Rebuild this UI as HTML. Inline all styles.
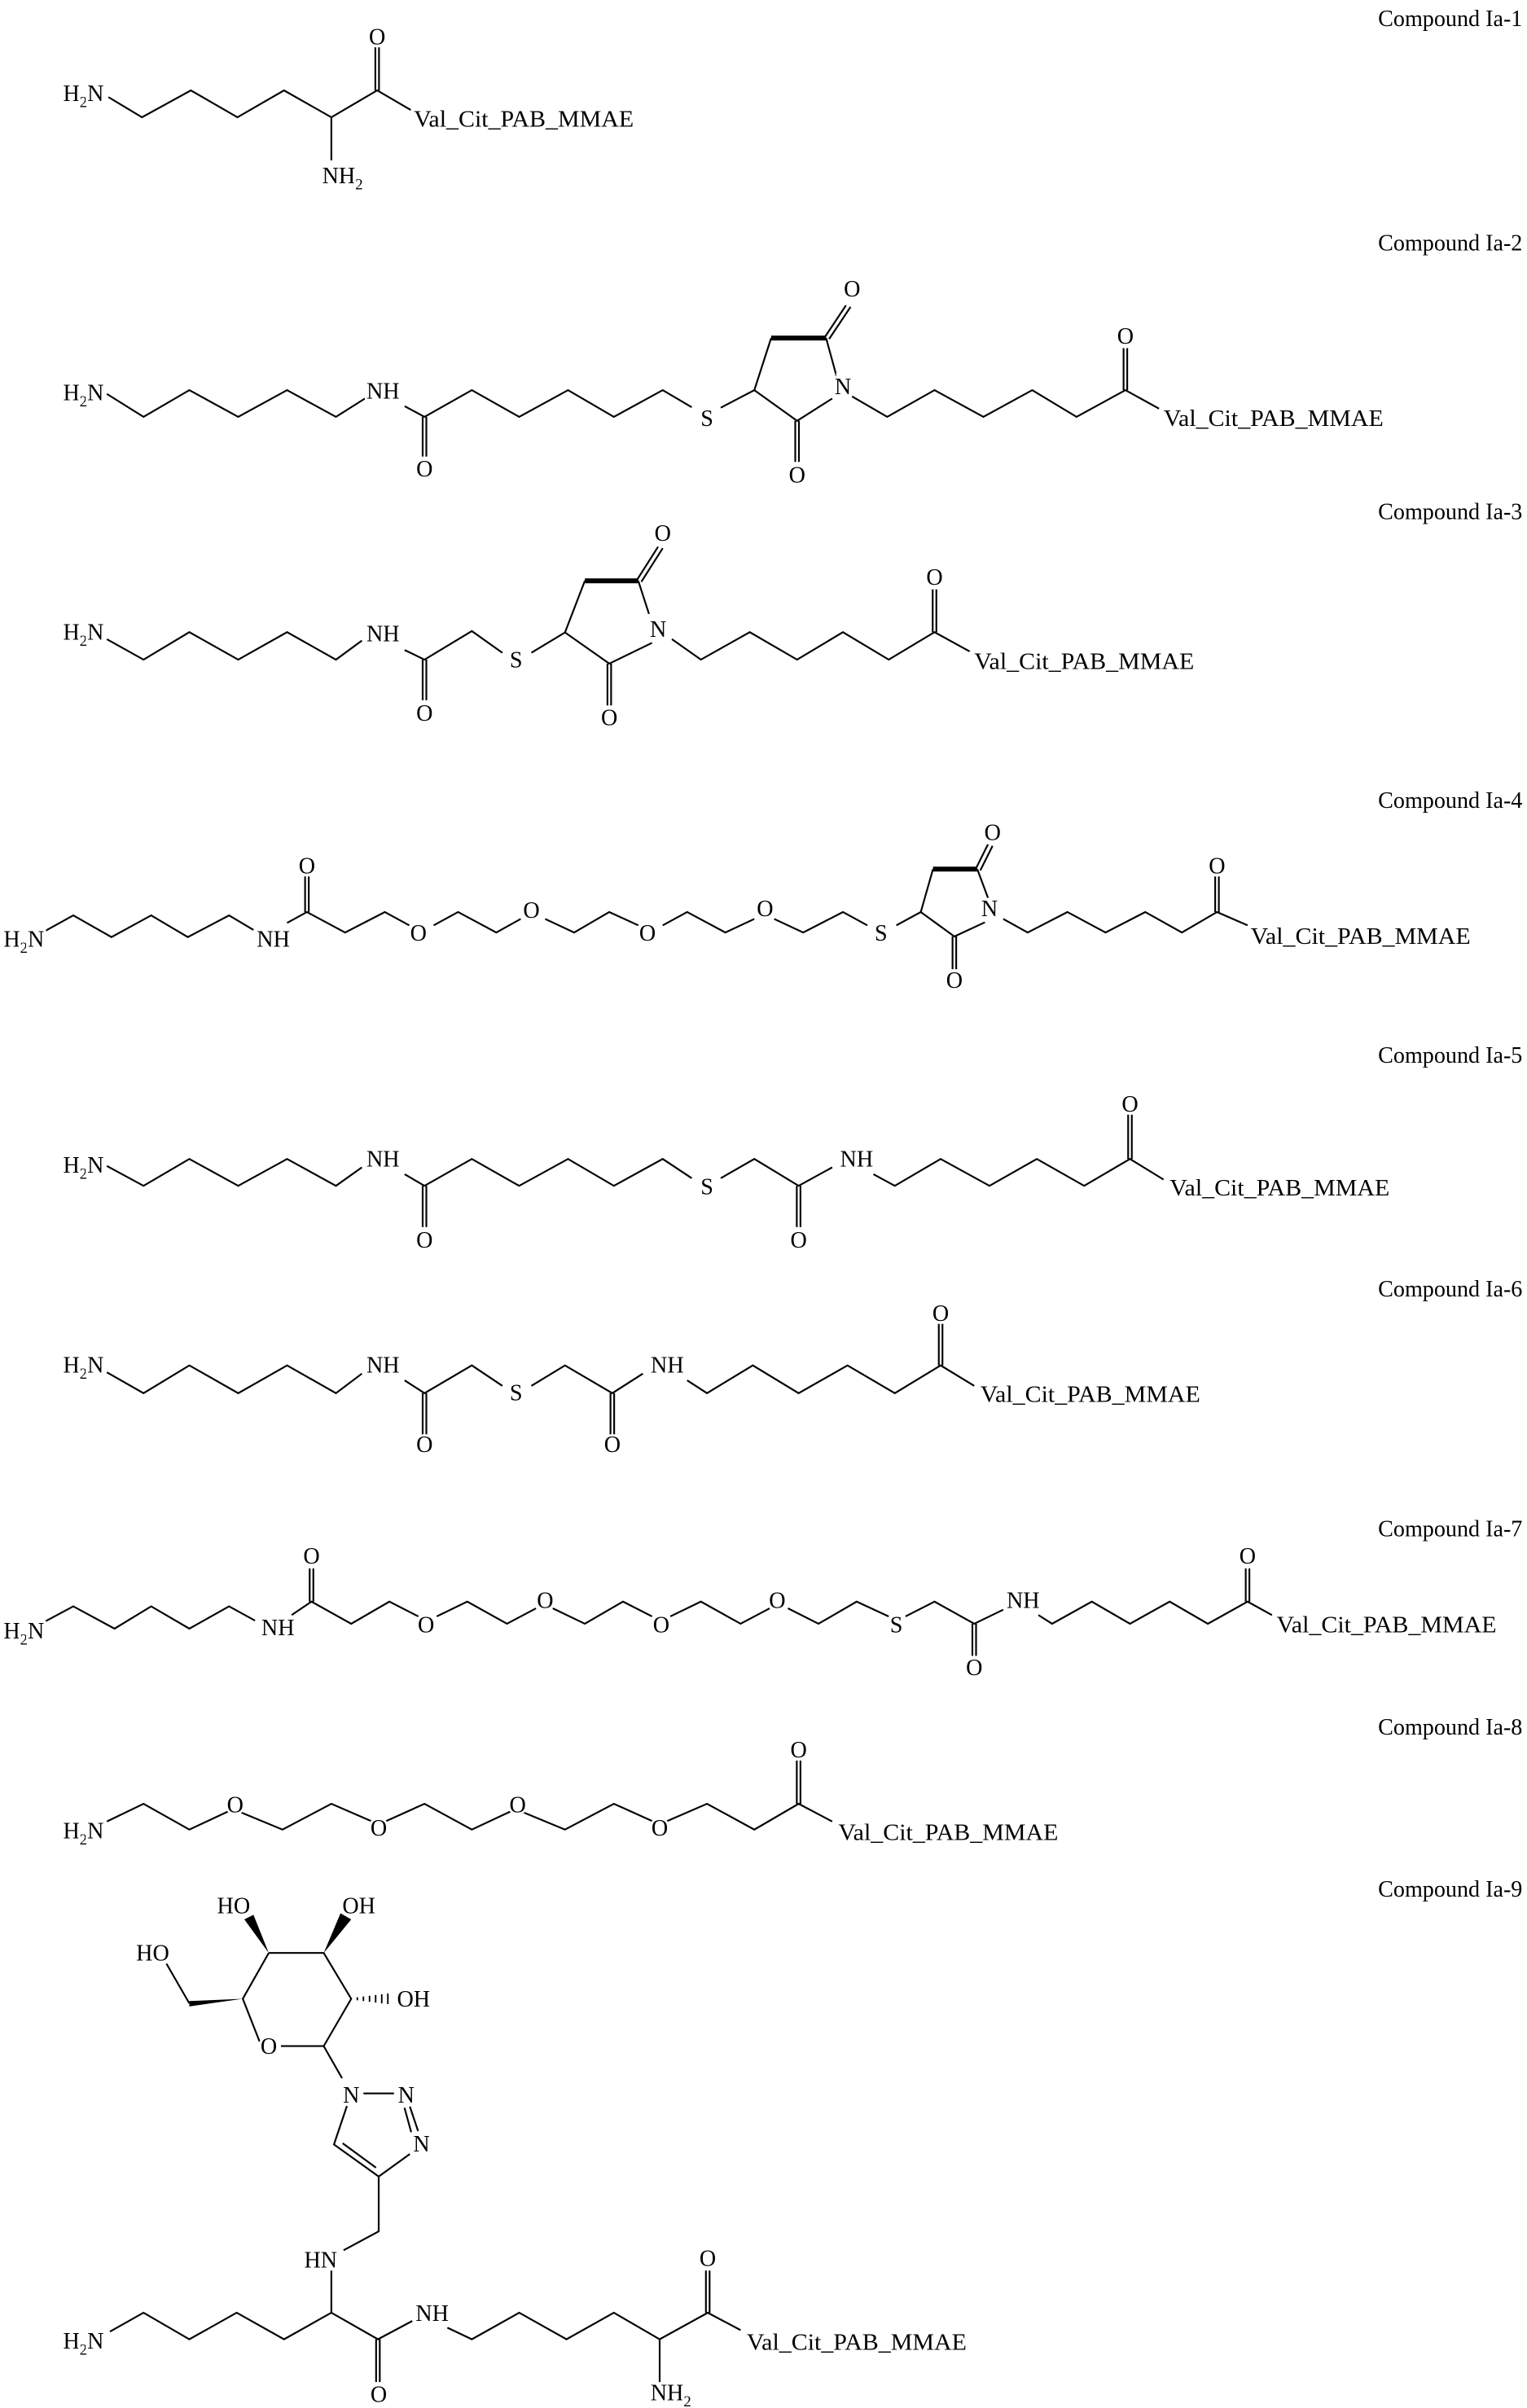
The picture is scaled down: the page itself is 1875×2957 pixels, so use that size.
<!DOCTYPE html>
<html><head><meta charset="utf-8"><style>
html,body{margin:0;padding:0;background:#fff}
svg{display:block}
.b{stroke:#000;stroke-width:1.15;fill:none;stroke-linejoin:miter}
.bb{stroke:#000;stroke-width:3.2;fill:none}
text{font-family:"Liberation Serif",serif;font-size:15px;fill:#000;paint-order:stroke;stroke:#fff;stroke-width:3px}
.m{text-anchor:middle}.e{text-anchor:end}
</style></head><body>
<svg width="1875" height="2957" viewBox="0 0 1000 1577" preserveAspectRatio="none" xmlns="http://www.w3.org/2000/svg">
<!-- Ia-1 -->
<g class="b">
<polyline points="71,63.6 93,76.8 125,59.2 155.5,76.8 186,59.2 217,76.8 247,59.2 269,72"/>
<line x1="245.8" y1="59.2" x2="245.8" y2="31"/><line x1="248.2" y1="59.2" x2="248.2" y2="31"/>
<line x1="217" y1="76.8" x2="217" y2="105"/>
</g>
<text class="e" x="68" y="66">H<tspan font-size="10" dy="4">2</tspan><tspan dy="-4">N</tspan></text>
<text class="m" x="247" y="29">O</text>
<text x="211" y="120">NH<tspan font-size="10" dy="4">2</tspan></text>
<text x="271" y="83" textLength="144" lengthAdjust="spacingAndGlyphs">Val_Cit_PAB_MMAE</text>
<text class="e" x="997" y="17">Compound Ia-1</text>

<!-- Ia-2 -->
<g class="b">
<polyline points="70,258 94,273 124,255.5 156,273 188,255.5 220,273 239,261"/>
<polyline points="265,266 278,273 309,255.5 340,273 372,255.5 402,273 434,255.5 453,266.7"/>
<line x1="276.8" y1="273" x2="276.8" y2="299"/><line x1="279.2" y1="273" x2="279.2" y2="299"/>
<polyline points="472,267 494,255.5 505,221.4"/>
<line x1="541" y1="221.4" x2="548" y2="247"/>
<polyline points="545,261 522,275.6 494,255.5"/>
<line x1="520.8" y1="275.6" x2="520.8" y2="302.5"/><line x1="523.2" y1="275.6" x2="523.2" y2="302.5"/>
<line x1="540" y1="221" x2="554" y2="200"/><line x1="543" y1="222" x2="557" y2="201"/>
<polyline points="558,259.6 581,273 612,255.5 644,273 676,255.5 705,273 737,255.5 759,267.6"/>
<line x1="735.8" y1="255.5" x2="735.8" y2="228"/><line x1="738.2" y1="255.5" x2="738.2" y2="228"/>
</g>
<line class="bb" x1="505" y1="221.4" x2="541" y2="221.4"/>
<text class="e" x="68" y="262">H<tspan font-size="10" dy="4">2</tspan><tspan dy="-4">N</tspan></text>
<text x="240" y="261">NH</text>
<text class="m" x="278" y="312">O</text>
<text class="m" x="463" y="279">S</text>
<text class="m" x="552" y="258">N</text>
<text class="m" x="522" y="316">O</text>
<text class="m" x="558" y="194">O</text>
<text class="m" x="737" y="225">O</text>
<text x="762" y="279" textLength="144" lengthAdjust="spacingAndGlyphs">Val_Cit_PAB_MMAE</text>
<text class="e" x="997" y="164">Compound Ia-2</text>

<!-- Ia-3 -->
<g class="b">
<polyline points="70,418.6 94,432 124,414 156,432 188,414 220,432 237,419.5"/>
<polyline points="265,425.7 278,432 309,413.3 329,427.5"/>
<line x1="276.8" y1="432" x2="276.8" y2="458.6"/><line x1="279.2" y1="432" x2="279.2" y2="458.6"/>
<polyline points="348,427.5 370,414.2 383,380.4"/>
<line x1="418" y1="380.4" x2="425" y2="402"/>
<polyline points="427,421 399,434.6 370,414.2"/>
<line x1="397.8" y1="434.6" x2="397.8" y2="462"/><line x1="400.2" y1="434.6" x2="400.2" y2="462"/>
<line x1="417" y1="380" x2="431" y2="358"/><line x1="420" y1="381" x2="434" y2="359"/>
<polyline points="440,418.6 459,432 491,414 522,432 552,414 582,432 612,414 635,426.6"/>
<line x1="610.8" y1="414" x2="610.8" y2="386"/><line x1="613.2" y1="414" x2="613.2" y2="386"/>
</g>
<line class="bb" x1="383" y1="380.4" x2="418" y2="380.4"/>
<text class="e" x="68" y="419">H<tspan font-size="10" dy="4">2</tspan><tspan dy="-4">N</tspan></text>
<text x="240" y="420">NH</text>
<text class="m" x="278" y="472">O</text>
<text class="m" x="338" y="437">S</text>
<text class="m" x="431" y="417">N</text>
<text class="m" x="399" y="475">O</text>
<text class="m" x="434" y="354">O</text>
<text class="m" x="612" y="383">O</text>
<text x="638" y="438" textLength="144" lengthAdjust="spacingAndGlyphs">Val_Cit_PAB_MMAE</text>
<text class="e" x="997" y="340">Compound Ia-3</text>

<!-- Ia-4 -->
<g class="b">
<polyline points="29,610 48,599.5 73,613.7 99,599.5 123,613.7 150,599.5 166,609"/>
<polyline points="188,604.4 201,597.3 226,610.7 252,597.3 268,606"/>
<line x1="199.8" y1="597.3" x2="199.8" y2="574"/><line x1="202.2" y1="597.3" x2="202.2" y2="574"/>
<polyline points="284,606 300,597.3 325,610.7 341,601.8"/>
<polyline points="357,601.8 376,610.7 399,597.3 418,606"/>
<polyline points="434,606 450,597.3 475,610.7 494,601.8"/>
<polyline points="507,601.8 526,610.7 552,597.3 568,606"/>
<polyline points="587,606 603,597.3 611,569.2"/>
<line x1="640" y1="569.2" x2="647" y2="588"/>
<polyline points="645,604 625,613.3 603,597.3"/>
<line x1="623.8" y1="613.3" x2="623.8" y2="634.7"/><line x1="626.2" y1="613.3" x2="626.2" y2="634.7"/>
<line x1="639" y1="569" x2="647" y2="553"/><line x1="642" y1="570" x2="650" y2="554"/>
<polyline points="657,601.8 673,610.7 699,597.3 724,610.7 750,597.3 774,610.7 797,597.3 817,606"/>
<line x1="795.8" y1="597.3" x2="795.8" y2="574"/><line x1="798.2" y1="597.3" x2="798.2" y2="574"/>
</g>
<line class="bb" x1="611" y1="569.2" x2="640" y2="569.2"/>
<text class="e" x="29" y="620">H<tspan font-size="10" dy="4">2</tspan><tspan dy="-4">N</tspan></text>
<text class="m" x="179" y="620">NH</text>
<text class="m" x="201" y="572">O</text>
<text class="m" x="274" y="616">O</text>
<text class="m" x="348" y="601">O</text>
<text class="m" x="424" y="616">O</text>
<text class="m" x="501" y="600">O</text>
<text class="m" x="577" y="616">S</text>
<text class="m" x="648" y="600">N</text>
<text class="m" x="625" y="647">O</text>
<text class="m" x="650" y="550">O</text>
<text class="m" x="797" y="572">O</text>
<text x="819" y="618" textLength="144" lengthAdjust="spacingAndGlyphs">Val_Cit_PAB_MMAE</text>
<text class="e" x="997" y="529">Compound Ia-4</text>

<!-- Ia-5 -->
<g class="b">
<polyline points="70,763.6 94,776.6 124,759 156,776.6 188,759 220,776.6 237,764.5"/>
<polyline points="265,769 278,776.6 309,759 340,776.6 372,759 402,776.6 434,759 453,771.6"/>
<line x1="276.8" y1="776.6" x2="276.8" y2="803.6"/><line x1="279.2" y1="776.6" x2="279.2" y2="803.6"/>
<polyline points="472,771.6 494,759 523,776.6 545,764.5"/>
<line x1="521.8" y1="776.6" x2="521.8" y2="803.6"/><line x1="524.2" y1="776.6" x2="524.2" y2="803.6"/>
<polyline points="572,769 586,776.6 616,759 648,776.6 679,759 710,776.6 740,759 762,772.5"/>
<line x1="738.8" y1="759" x2="738.8" y2="730"/><line x1="741.2" y1="759" x2="741.2" y2="730"/>
</g>
<text class="e" x="68" y="768">H<tspan font-size="10" dy="4">2</tspan><tspan dy="-4">N</tspan></text>
<text x="240" y="764">NH</text>
<text class="m" x="278" y="817">O</text>
<text class="m" x="463" y="782">S</text>
<text class="m" x="523" y="817">O</text>
<text class="m" x="561" y="764">NH</text>
<text class="m" x="740" y="728">O</text>
<text x="766" y="783" textLength="144" lengthAdjust="spacingAndGlyphs">Val_Cit_PAB_MMAE</text>
<text class="e" x="997" y="696">Compound Ia-5</text>

<!-- Ia-6 -->
<g class="b">
<polyline points="70,898.7 94,912.4 124,894.2 156,912.4 188,894.2 220,912.4 237,899.6"/>
<polyline points="265,904 278,912.4 309,894.2 329,907.6"/>
<line x1="276.8" y1="912.4" x2="276.8" y2="939.6"/><line x1="279.2" y1="912.4" x2="279.2" y2="939.6"/>
<polyline points="348,907.6 370,894.2 401,912.4 421,899.6"/>
<line x1="399.8" y1="912.4" x2="399.8" y2="939.6"/><line x1="402.2" y1="912.4" x2="402.2" y2="939.6"/>
<polyline points="450,904 463,912.4 493,894.2 523,912.4 555,894.2 586,912.4 616,894.2 638,907.6"/>
<line x1="614.8" y1="894.2" x2="614.8" y2="867"/><line x1="617.2" y1="894.2" x2="617.2" y2="867"/>
</g>
<text class="e" x="68" y="899">H<tspan font-size="10" dy="4">2</tspan><tspan dy="-4">N</tspan></text>
<text x="240" y="899">NH</text>
<text class="m" x="278" y="951">O</text>
<text class="m" x="338" y="917">S</text>
<text class="m" x="401" y="951">O</text>
<text class="m" x="437" y="899">NH</text>
<text class="m" x="616" y="865">O</text>
<text x="642" y="918" textLength="144" lengthAdjust="spacingAndGlyphs">Val_Cit_PAB_MMAE</text>
<text class="e" x="997" y="849">Compound Ia-6</text>

<!-- Ia-7 -->
<g class="b">
<polyline points="29,1062.2 48,1052 75,1066.6 99,1052 124,1066.6 150,1052 167,1061.3"/>
<polyline points="191,1057.7 204,1048.9 230,1063.4 255,1048.9 274,1058.6"/>
<line x1="202.8" y1="1048.9" x2="202.8" y2="1027.2"/><line x1="205.2" y1="1048.9" x2="205.2" y2="1027.2"/>
<polyline points="286,1058.6 306,1048.9 332,1063.4 351,1053.3"/>
<polyline points="362,1053.3 383,1063.4 408,1048.9 427,1058.6"/>
<polyline points="439,1058.6 459,1048.9 485,1063.4 504,1053.3"/>
<polyline points="516,1053.3 536,1063.4 561,1048.9 582,1058.6"/>
<polyline points="593,1058.6 612,1048.9 638,1063.4 657,1054.2"/>
<line x1="636.8" y1="1063.4" x2="636.8" y2="1084.4"/><line x1="639.2" y1="1063.4" x2="639.2" y2="1084.4"/>
<polyline points="680,1057.7 689,1063.4 715,1048.9 740,1063.4 766,1048.9 791,1063.4 817,1048.9 833,1057.7"/>
<line x1="815.8" y1="1048.9" x2="815.8" y2="1027.2"/><line x1="818.2" y1="1048.9" x2="818.2" y2="1027.2"/>
</g>
<text class="e" x="29" y="1073">H<tspan font-size="10" dy="4">2</tspan><tspan dy="-4">N</tspan></text>
<text class="m" x="182" y="1071">NH</text>
<text class="m" x="204" y="1024">O</text>
<text class="m" x="279" y="1069">O</text>
<text class="m" x="357" y="1053">O</text>
<text class="m" x="433" y="1069">O</text>
<text class="m" x="509" y="1053">O</text>
<text class="m" x="587" y="1069">S</text>
<text class="m" x="638" y="1097">O</text>
<text class="m" x="670" y="1053">NH</text>
<text class="m" x="817" y="1024">O</text>
<text x="836" y="1069" textLength="144" lengthAdjust="spacingAndGlyphs">Val_Cit_PAB_MMAE</text>
<text class="e" x="997" y="1006">Compound Ia-7</text>

<!-- Ia-8 -->
<g class="b">
<polyline points="70,1192.9 94,1181.3 124,1198.2 150,1186"/>
<polyline points="158,1187 185,1198.2 217,1181.3 244,1193"/>
<polyline points="252,1193 278,1181.3 309,1198.2 335,1186"/>
<polyline points="343,1187 370,1198.2 402,1181.3 428,1193"/>
<polyline points="436,1193 463,1181.3 494,1198.2 523,1181.3 545,1192.9"/>
<line x1="521.8" y1="1181.3" x2="521.8" y2="1153"/><line x1="524.2" y1="1181.3" x2="524.2" y2="1153"/>
</g>
<text class="e" x="68" y="1204">H<tspan font-size="10" dy="4">2</tspan><tspan dy="-4">N</tspan></text>
<text class="m" x="154" y="1187">O</text>
<text class="m" x="248" y="1202">O</text>
<text class="m" x="339" y="1187">O</text>
<text class="m" x="432" y="1202">O</text>
<text class="m" x="523" y="1151">O</text>
<text x="549" y="1205" textLength="144" lengthAdjust="spacingAndGlyphs">Val_Cit_PAB_MMAE</text>
<text class="e" x="997" y="1136">Compound Ia-8</text>

<!-- Ia-9 -->
<g class="b">
<polyline points="176,1279 212,1279 230,1309 212,1340 184,1340"/>
<polyline points="170,1337 159,1309 176,1279"/>
<line x1="124" y1="1312" x2="109" y2="1286"/>
<line x1="212" y1="1340" x2="224" y2="1361"/>
<line x1="238" y1="1371" x2="258" y2="1371"/>
<line x1="264.9" y1="1380.4" x2="269.3" y2="1396.4"/>
<line x1="268.4" y1="1379.6" x2="273.8" y2="1395.6"/>
<polyline points="268.4,1410.7 248,1425.4 218.7,1404.4 227.2,1379.2"/>
<line x1="224.4" y1="1403.6" x2="246.2" y2="1419.6"/>
<polyline points="248,1425.4 248,1461.3 225,1473.7"/>
<line x1="217" y1="1487" x2="217" y2="1514.6"/>
<polyline points="72,1527 94,1514.6 124,1532 155,1514.6 186,1532 217,1514.6 247.5,1532 270,1520"/>
<line x1="246.3" y1="1532" x2="246.3" y2="1560"/><line x1="248.7" y1="1532" x2="248.7" y2="1560"/>
<polyline points="293,1524.4 309,1532 340,1514.6 371,1532 402,1514.6 432,1532 463.5,1514.6 485,1526"/>
<line x1="432" y1="1532" x2="432" y2="1560"/>
<line x1="462.3" y1="1514.6" x2="462.3" y2="1487"/><line x1="464.7" y1="1514.6" x2="464.7" y2="1487"/>
</g>
<polygon points="176,1279 160,1257 166,1254" fill="#000"/>
<polygon points="212,1279 223,1253 230,1257" fill="#000"/>
<polygon points="159,1309 124,1310.5 124,1314" fill="#000"/>
<g stroke="#000" stroke-width="1">
<line x1="234" y1="1308" x2="234" y2="1310"/>
<line x1="238" y1="1307.5" x2="238" y2="1310.5"/>
<line x1="242" y1="1307" x2="242" y2="1311"/>
<line x1="246" y1="1306.5" x2="246" y2="1311.5"/>
<line x1="250" y1="1306" x2="250" y2="1312"/>
<line x1="254" y1="1305.5" x2="254" y2="1312.5"/>
</g>
<text class="m" x="153" y="1253">HO</text>
<text class="m" x="235" y="1253">OH</text>
<text class="m" x="100" y="1284">HO</text>
<text x="260" y="1314">OH</text>
<text class="m" x="176" y="1345">O</text>
<text class="m" x="230" y="1377">N</text>
<text class="m" x="266" y="1377">N</text>
<text class="m" x="276" y="1409">N</text>
<text class="m" x="210" y="1485">HN</text>
<text class="e" x="68" y="1538">H<tspan font-size="10" dy="4">2</tspan><tspan dy="-4">N</tspan></text>
<text class="m" x="283" y="1520">NH</text>
<text class="m" x="248" y="1573">O</text>
<text x="426" y="1572">NH<tspan font-size="10" dy="4">2</tspan></text>
<text class="m" x="463.5" y="1484">O</text>
<text x="489" y="1539" textLength="144" lengthAdjust="spacingAndGlyphs">Val_Cit_PAB_MMAE</text>
<text class="e" x="997" y="1242">Compound Ia-9</text>
</svg>
</body></html>
